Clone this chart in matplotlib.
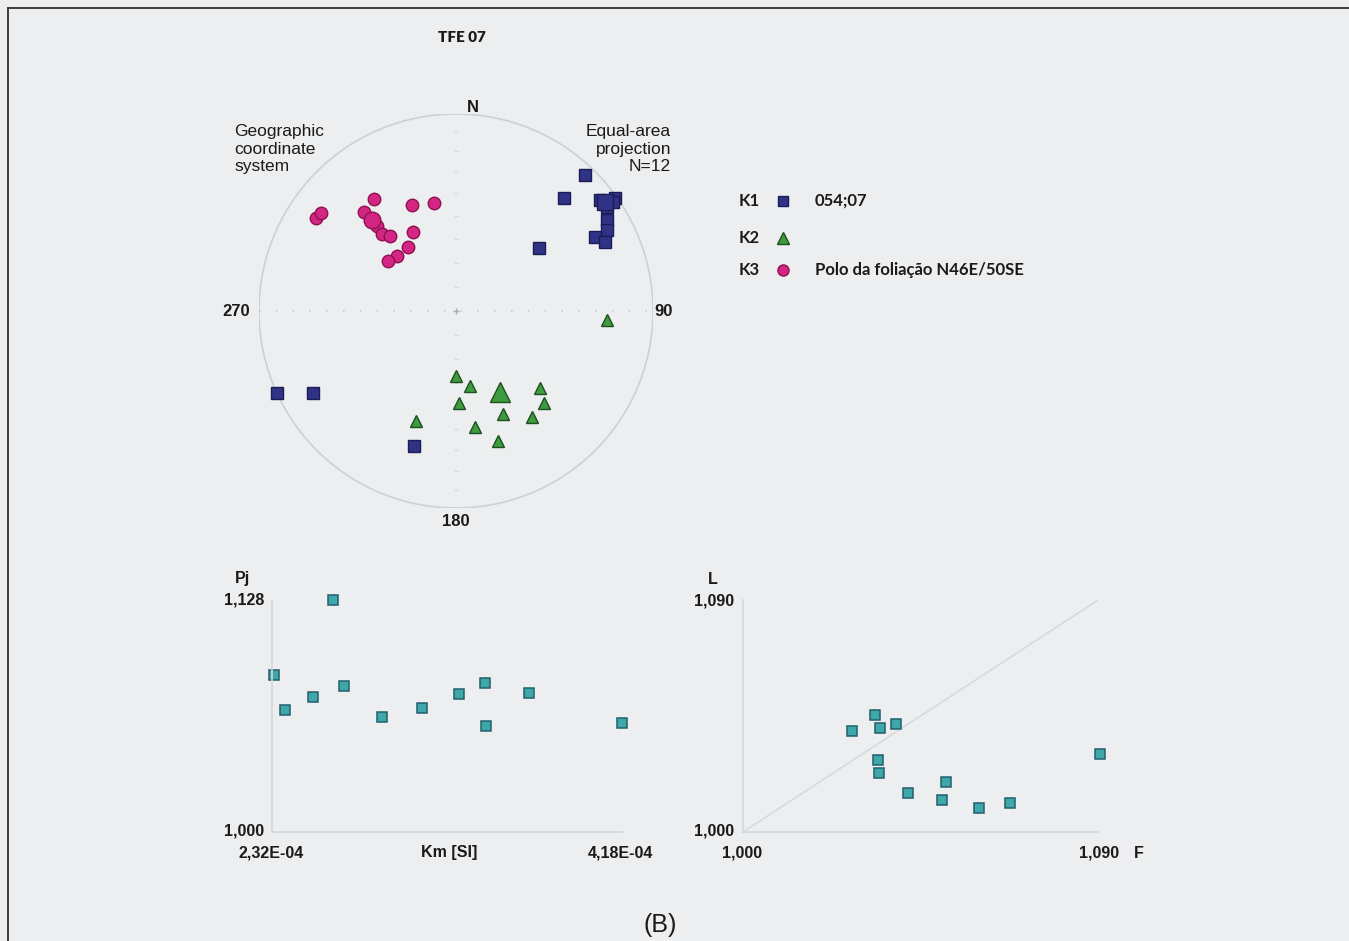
import numpy as np
import matplotlib
matplotlib.use("Agg")
import matplotlib.pyplot as plt

# ── Data ──────────────────────────────────────────────────────────────────────
# principal susceptibility axes, trend / plunge in degrees
k1_trend  = [43.5, 43.7, 52.8, 52.4, 54.7, 55.4, 58.9, 61.8, 62.0, 65.2, 55.2, 245.3, 240.2, 197.3]
k1_plunge = [5.5, 21.8, 46.2, 8.5, 1.0, 7.6, 11.6, 14.1, 21.1, 17.8, 3.4, 0.3, 17.4, 29.0]
k2_trend  = [180.0, 169.4, 132.5, 178.2, 136.3, 155.5, 144.3, 200.0, 170.7, 162.1, 93.4]
k2_plunge = [63.0, 58.2, 41.8, 51.5, 35.6, 42.0, 34.2, 40.3, 40.0, 31.2, 24.2]
k3_trend  = [303.6, 306.0, 323.8, 337.5, 348.5, 317.1, 317.1, 316.1, 318.7, 331.5, 323.1, 313.0, 306.4]
k3_plunge = [15.8, 16.6, 30.2, 41.4, 43.4, 32.0, 40.8, 45.0, 48.0, 52.4, 56.6, 56.4, 54.8]
# mean directions
k1_mean = (54.0, 7.0)
k2_mean = (151.5, 51.4)
k3_mean = (317.3, 37.2)

# scalar parameters
km = [2.328e-4, 2.390e-4, 2.537e-4, 2.643e-4, 2.702e-4, 2.904e-4,
      3.115e-4, 3.312e-4, 3.450e-4, 3.454e-4, 3.683e-4, 4.177e-4]
pj = [1.0866, 1.0672, 1.0746, 1.1280, 1.0805, 1.0632,
      1.0685, 1.0759, 1.0823, 1.0586, 1.0765, 1.0599]
f_val = [1.0277, 1.0335, 1.0347, 1.0388, 1.0342, 1.0345,
         1.0419, 1.0514, 1.0505, 1.0599, 1.0677, 1.0906]
l_val = [1.0392, 1.0454, 1.0403, 1.0420, 1.0279, 1.0228,
         1.0151, 1.0194, 1.0124, 1.0094, 1.0113, 1.0302]

KM_LIM = (2.32e-4, 4.18e-4)
PJ_LIM = (1.000, 1.128)
FL_LIM = (1.000, 1.090)

# ── Style ─────────────────────────────────────────────────────────────────────
W, H = 1349, 941
BG = "#eceef0"
GRID = "#cdd0d4"
TXT = "#1a1a1a"
FONT = "Liberation Sans"
LEG_FONT = "Lato"

K1_STYLE = dict(marker="s", mfc="#303385", mec="#1b1c55", mew=1.0, ls="none")
K2_STYLE = dict(marker="^", mfc="#3d9c3f", mec="#1d4f1e", mew=1.0, ls="none")
K3_STYLE = dict(marker="o", mfc="#d42584", mec="#8c1250", mew=1.0, ls="none")
PT_STYLE = dict(marker="s", mfc="#3ea7aa", mec="#235f6c", mew=1.1, ls="none", ms=7.5)


def project(trend, plunge):
    """Lower-hemisphere equal-area (Schmidt) projection."""
    t = np.radians(np.asarray(trend, float))
    p = np.radians(np.asarray(plunge, float))
    r = np.sqrt(2) * np.sin((np.pi / 2 - p) / 2)
    return r * np.sin(t), r * np.cos(t)


def rect(x0, y0, x1, y1):
    return [x0 / W, 1 - y1 / H, (x1 - x0) / W, (y1 - y0) / H]


fig = plt.figure(figsize=(W / 100, H / 100), dpi=100, facecolor=BG)

# overlay in pixel coordinates for labels and frame
ov = fig.add_axes([0, 0, 1, 1], zorder=0)
ov.set_xlim(0, W)
ov.set_ylim(H, 0)
ov.axis("off")
ov.plot([8, 8], [8, H], color="#3c3c3c", lw=1.4)
ov.plot([8, W], [8, 8], color="#3c3c3c", lw=1.4)

# ── Stereonet ─────────────────────────────────────────────────────────────────
CX, CY, R = 456, 311, 197
st = fig.add_axes(rect(CX - R, CY - R, CX + R, CY + R), zorder=2)
st.set_xlim(-1, 1)
st.set_ylim(-1, 1)
st.set_aspect("equal")
st.axis("off")

th = np.linspace(0, 2 * np.pi, 400)
st.plot(np.cos(th), np.sin(th), color=GRID, lw=1.2)
st.plot([-1, 1], [0, 0], color="#c4c6cb", lw=1.1, ls=(0, (1, 10)))
rr = project(0, np.arange(10, 90, 10))[1]
st.plot(np.zeros_like(rr), rr, ls="none", marker="_", ms=3, color="#d8dade")
st.plot(np.zeros_like(rr), -rr, ls="none", marker="_", ms=3, color="#d8dade")
st.plot([0], [0], marker="+", ms=5, color="#a9abb0", mew=1)

x, y = project(k3_trend, k3_plunge)
st.plot(x, y, ms=9, clip_on=False, **K3_STYLE)
x, y = project(*k3_mean)
st.plot([x], [y], ms=12, clip_on=False, **K3_STYLE)
x, y = project(k2_trend, k2_plunge)
st.plot(x, y, ms=9, clip_on=False, **K2_STYLE)
x, y = project(*k2_mean)
st.plot([x], [y], ms=14, clip_on=False, **K2_STYLE)
x, y = project(k1_trend, k1_plunge)
st.plot(x, y, ms=8, clip_on=False, **K1_STYLE)
x, y = project(*k1_mean)
st.plot([x], [y], ms=11, clip_on=False, **K1_STYLE)

lab = dict(color=TXT, family=FONT, fontsize=12, fontweight="bold")
ov.text(473, 107, "N", ha="center", va="center", **lab)
ov.text(456, 522, "180", ha="center", va="center", **lab)
ov.text(236, 312, "270", ha="center", va="center", **lab)
ov.text(664, 312, "90", ha="center", va="center", **lab)
ov.text(462, 37, "TFE 07", ha="center", va="center", color=TXT,
        family=LEG_FONT, fontsize=11, fontweight="heavy")
corner = dict(va="center", linespacing=1.2, color=TXT, family=FONT, fontsize=12.5)
ov.text(234, 149, "Geographic\ncoordinate\nsystem", ha="left", **corner)
ov.text(671, 149, "Equal-area\nprojection\nN=12", ha="right", **corner)

# legend
leg = dict(color=TXT, family=LEG_FONT, fontsize=12, fontweight="bold", va="center")
for ypix, name, style, ms in [(201, "K1", K1_STYLE, 7), (238, "K2", K2_STYLE, 8),
                              (270, "K3", K3_STYLE, 8)]:
    ov.text(739, ypix, name, ha="left", **leg)
    ov.plot([783], [ypix], ms=ms, **style)
ov.text(815, 201, "054;07", ha="left", **leg)
ov.text(815, 270, "Polo da foliação N46E/50SE", ha="left", **leg)

# ── Pj vs Km ──────────────────────────────────────────────────────────────────
tick = dict(color=TXT, family=FONT, fontsize=11.5, fontweight="bold")
ax1 = fig.add_axes(rect(272, 600, 623, 832), zorder=2)
ax1.patch.set_visible(False)
ax1.plot(km, pj, clip_on=False, **PT_STYLE)
ax1.set_xlim(*KM_LIM)
ax1.set_ylim(*PJ_LIM)
ax1.set_xticks([])
ax1.set_yticks([])
for s in ["top", "right"]:
    ax1.spines[s].set_visible(False)
for s in ["left", "bottom"]:
    ax1.spines[s].set_color("#d4d6da")
    ax1.spines[s].set_linewidth(1.2)
ov.text(264, 600, "1,128", ha="right", va="center", **tick)
ov.text(264, 831, "1,000", ha="right", va="center", **tick)
ov.text(243, 579, "Pj", ha="center", va="center", **tick)
ov.text(271, 853, "2,32E-04", ha="center", va="center", **tick)
ov.text(449, 853, "Km [SI]", ha="center", va="center", **tick)
ov.text(620, 853, "4,18E-04", ha="center", va="center", **tick)

# ── L vs F ────────────────────────────────────────────────────────────────────
ax2 = fig.add_axes(rect(743, 600, 1098, 832), zorder=2)
ax2.patch.set_visible(False)
ax2.plot(FL_LIM, FL_LIM, color="#d6d8dc", lw=1.1)
ax2.plot(f_val, l_val, clip_on=False, **PT_STYLE)
ax2.set_xlim(*FL_LIM)
ax2.set_ylim(*FL_LIM)
ax2.set_xticks([])
ax2.set_yticks([])
for s in ["top", "right"]:
    ax2.spines[s].set_visible(False)
for s in ["left", "bottom"]:
    ax2.spines[s].set_color("#d4d6da")
    ax2.spines[s].set_linewidth(1.2)
ov.text(734, 601, "1,090", ha="right", va="center", **tick)
ov.text(734, 831, "1,000", ha="right", va="center", **tick)
ov.text(713, 579, "L", ha="center", va="center", **tick)
ov.text(742, 853, "1,000", ha="center", va="center", **tick)
ov.text(1099, 853, "1,090", ha="center", va="center", **tick)
ov.text(1139, 853, "F", ha="center", va="center", **tick)

ov.text(660, 925, "(B)", ha="center", va="center", color=TXT, family=FONT, fontsize=18)

fig.savefig("out.png", dpi=100, facecolor=BG)
